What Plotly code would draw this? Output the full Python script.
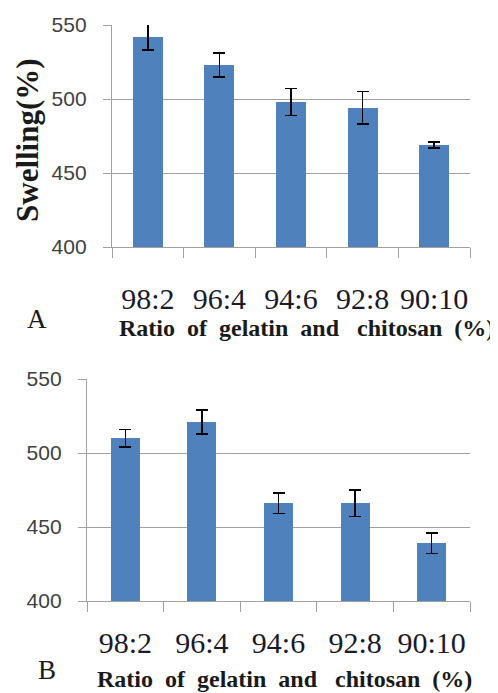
import plotly.graph_objects as go

categories = ["98:2", "96:4", "94:6", "92:8", "90:10"]
swelling_a = [542, 523, 498, 494, 469]
error_a = [9, 8, 9, 11, 2]
swelling_b = [510, 521, 466, 466, 439]
error_b = [6, 8, 7, 9, 7]
y_ticks = [400, 450, 500, 550]

# page body has an 8px margin, so the figure is 8px smaller and positions are shifted by 8px
OFF = 8
W, H = 498 - OFF, 693 - OFF
bar_color = "#4f81bd"
grid_color = "#a0a0a0"

fig = go.Figure()
fig.add_trace(go.Bar(x=categories, y=swelling_a, width=0.42, marker=dict(color=bar_color, line=dict(width=0)),
                     error_y=dict(type="data", array=error_a, color="black", thickness=1.5, width=6),
                     xaxis="x", yaxis="y", showlegend=False))
fig.add_trace(go.Bar(x=categories, y=swelling_b, width=0.38, marker=dict(color=bar_color, line=dict(width=0)),
                     error_y=dict(type="data", array=error_b, color="black", thickness=1.5, width=6),
                     xaxis="x2", yaxis="y2", showlegend=False))

def px_x(v):
    return (v - OFF) / W

def px_y(v):
    return 1 - (v - OFF) / H

def xaxis_style(standoff):
    return dict(type="category", tickson="boundaries", ticks="outside", ticklen=10, tickcolor=grid_color,
                tickwidth=1.3, showline=True, linecolor=grid_color, linewidth=1.3, showgrid=False,
                tickfont=dict(family="Liberation Serif", size=30, color="#1a1a2a"), ticklabelstandoff=standoff,
                tickangle=0, automargin=False, range=[-0.5, 4.5], fixedrange=True)

ycommon = dict(range=[400, 550], tickvals=y_ticks, ticks="outside", ticklen=8, tickcolor=grid_color,
               tickwidth=1.3, showline=True, linecolor=grid_color, linewidth=1.3, showgrid=True,
               gridcolor=grid_color, gridwidth=1.3, zeroline=False, automargin=False,
               tickfont=dict(family="Liberation Sans", size=21, color="#404040"), ticklabelstandoff=12)

fig.update_layout(
    width=W, height=H, margin=dict(l=0, r=0, t=0, b=0, autoexpand=False),
    plot_bgcolor="white", paper_bgcolor="white",
    bargap=0,
    xaxis=dict(domain=[px_x(112), px_x(470)], anchor="y", **xaxis_style(25)),
    yaxis=dict(domain=[px_y(247), px_y(25)], anchor="x", **ycommon),
    xaxis2=dict(domain=[px_x(87), px_x(470)], anchor="y2", **xaxis_style(15)),
    yaxis2=dict(domain=[px_y(601), px_y(379)], anchor="x2", **ycommon),
)

xtitle = "<b>Ratio\u2002of\u2002gelatin\u2002and\u2002 chitosan\u2002(%)</b>"
serif_bold = dict(family="Liberation Serif", size=24, color="#1a1a1a")

def note(text, x, y, font, angle=0):
    fig.add_annotation(text=text, x=px_x(x), y=px_y(y), xref="paper", yref="paper",
                       xanchor="center", yanchor="middle", textangle=angle, showarrow=False, font=font)

note("<b>Swelling(%)</b>", 28, 140, dict(family="Liberation Serif", size=31, color="#1a1a1a"), angle=-90)
note(xtitle, 306, 328, serif_bold)
note(xtitle, 284, 679, serif_bold)
note("A", 37, 319, dict(family="Liberation Serif", size=27, color="#1a1a1a"))
note("B", 47, 670, dict(family="Liberation Serif", size=27, color="#1a1a1a"))

fig.write_html("out.html")
